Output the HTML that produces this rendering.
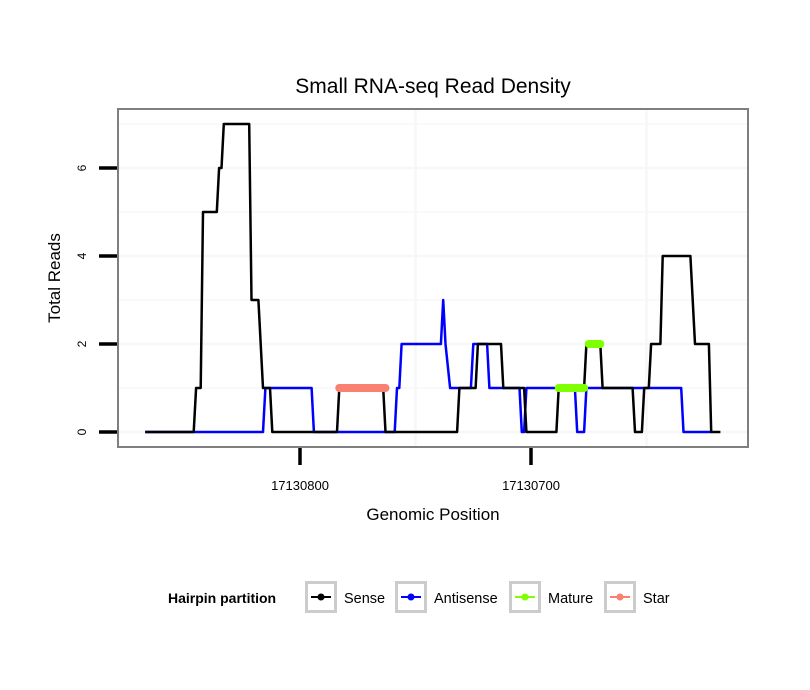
<!DOCTYPE html>
<html><head><meta charset="utf-8"><style>
body{margin:0;background:#fff;}
svg{display:block;font-family:"Liberation Sans",sans-serif;}
</style></head><body>
<svg id="chart" width="810" height="690" viewBox="0 0 810 690">
<rect width="810" height="690" fill="#fff"/>
<text x="433" y="93" font-size="21" text-anchor="middle">Small RNA-seq Read Density</text>
<g id="grid"></g>
<g id="series"></g>
<rect x="118" y="109" width="630" height="338" fill="none" stroke="#7f7f7f" stroke-width="2"/>
<g id="axes"></g>
<text x="433" y="520" font-size="17" text-anchor="middle">Genomic Position</text>
<text transform="translate(60,278) rotate(-90)" font-size="17" text-anchor="middle">Total Reads</text>
<g>
<text x="168" y="603" font-size="14" font-weight="bold">Hairpin partition</text>
<g id="legend-items"></g>
</g>
</svg>
<script>
const senseX=[867,846,845,843,842,836,835,834,833,822,821,818,816,813,812,784,783,764,763,732,731,724,723,713,712,703,702,689,688,677,676,670,669,656,655,652,651,649,648,644,643,631,629,623,622,618];
const senseY=[0,0,1,1,5,5,6,6,7,7,3,3,1,1,0,0,1,1,0,0,1,1,2,2,1,1,0,0,1,1,2,2,1,1,0,0,1,1,2,2,4,4,2,2,0,0];
const antiX=[867,816,815,795,794,759,758,757,756,739,738,737,735,726,725,719,718,705,704,703,702,681,680,677,676,635,634,622];
const antiY=[0,0,1,1,0,0,1,1,2,2,3,2,1,1,2,2,1,1,0,0,1,1,0,0,1,1,0,0];
const matureStart=[688,675];
const matureEnd=[677,670];
const matureY=[1,2];
const starStart=[783];
const starEnd=[763];
const starY=[1];
const yTicks=[0,2,4,6];
const xTicks=[17130800,17130700];
const BASE=17130000;
const legendLabels=["Sense","Antisense","Mature","Star"];
const legendColors=["#000000","#0000ff","#7fff00","#fa8072"];

const NS="http://www.w3.org/2000/svg";
function xs(p){return 300+(17130800-p)*2.31;}
function ys(v){return 432-v*44;}
function mk(tag,attrs,parent){const e=document.createElementNS(NS,tag);for(const k in attrs)e.setAttribute(k,attrs[k]);parent.appendChild(e);return e;}
const grid=document.getElementById('grid'),series=document.getElementById('series'),axes=document.getElementById('axes');
for(let v=0;v<=7;v++){const l=mk('line',{x1:118,x2:748,y1:ys(v),y2:ys(v),stroke:'#f7f7f7','stroke-width':v%2?1.5:2.5},grid);

}
[17130750,17130650].forEach(p=>{const x=xs(p);const l=mk('line',{x1:x,x2:x,y1:109,y2:447,stroke:'#f7f7f7','stroke-width':2.5},grid);

});
function path(X,Y){return X.map((p,i)=>(i?'L':'M')+xs(BASE+p).toFixed(1)+','+ys(Y[i]).toFixed(1)).join(' ');}
const pa=mk('path',{d:path(antiX,antiY),fill:'none',stroke:'#0000ff','stroke-width':2.5,'stroke-linejoin':'round'},series);


const ps=mk('path',{d:path(senseX,senseY),fill:'none',stroke:'#000','stroke-width':2.5,'stroke-linejoin':'round'},series);


function segs(S,E,Y,color,name){S.forEach((s,i)=>{const l=mk('line',{x1:xs(BASE+s),x2:xs(BASE+E[i]),y1:ys(Y[i]),y2:ys(Y[i]),stroke:color,'stroke-width':8,'stroke-linecap':'round'},series);

});}
segs(starStart,starEnd,starY,'#fa8072','star-segment');
segs(matureStart,matureEnd,matureY,'#7fff00','mature-segment');
yTicks.forEach(v=>{const y=ys(v);
const t=mk('line',{x1:99,x2:117,y1:y,y2:y,stroke:'#000','stroke-width':3.5},axes);


const tx=mk('text',{transform:`translate(86,${y}) rotate(-90)`,'font-size':12,'text-anchor':'middle'},axes);tx.textContent=v;

});
xTicks.forEach(p=>{const x=xs(p);
const t=mk('line',{x1:x,x2:x,y1:448,y2:465,stroke:'#000','stroke-width':3.5},axes);


const tx=mk('text',{x:x,y:490,'font-size':13,'text-anchor':'middle'},axes);tx.textContent=p;

});
const li=document.getElementById('legend-items');
const boxX=[305,395,509,604];
legendLabels.forEach((lab,i)=>{const g=mk('g',{},li);


const bx=boxX[i];
mk('rect',{x:bx+1.5,y:582.5,width:29,height:29,fill:'#fff',stroke:'#cccccc','stroke-width':3},g);
mk('line',{x1:bx+6,x2:bx+26,y1:597,y2:597,stroke:legendColors[i],'stroke-width':2},g);
mk('circle',{cx:bx+16,cy:597,r:3.5,fill:legendColors[i]},g);
const t=mk('text',{x:bx+39,y:603,'font-size':14.5},g);t.textContent=lab;});
</script>
</body></html>
